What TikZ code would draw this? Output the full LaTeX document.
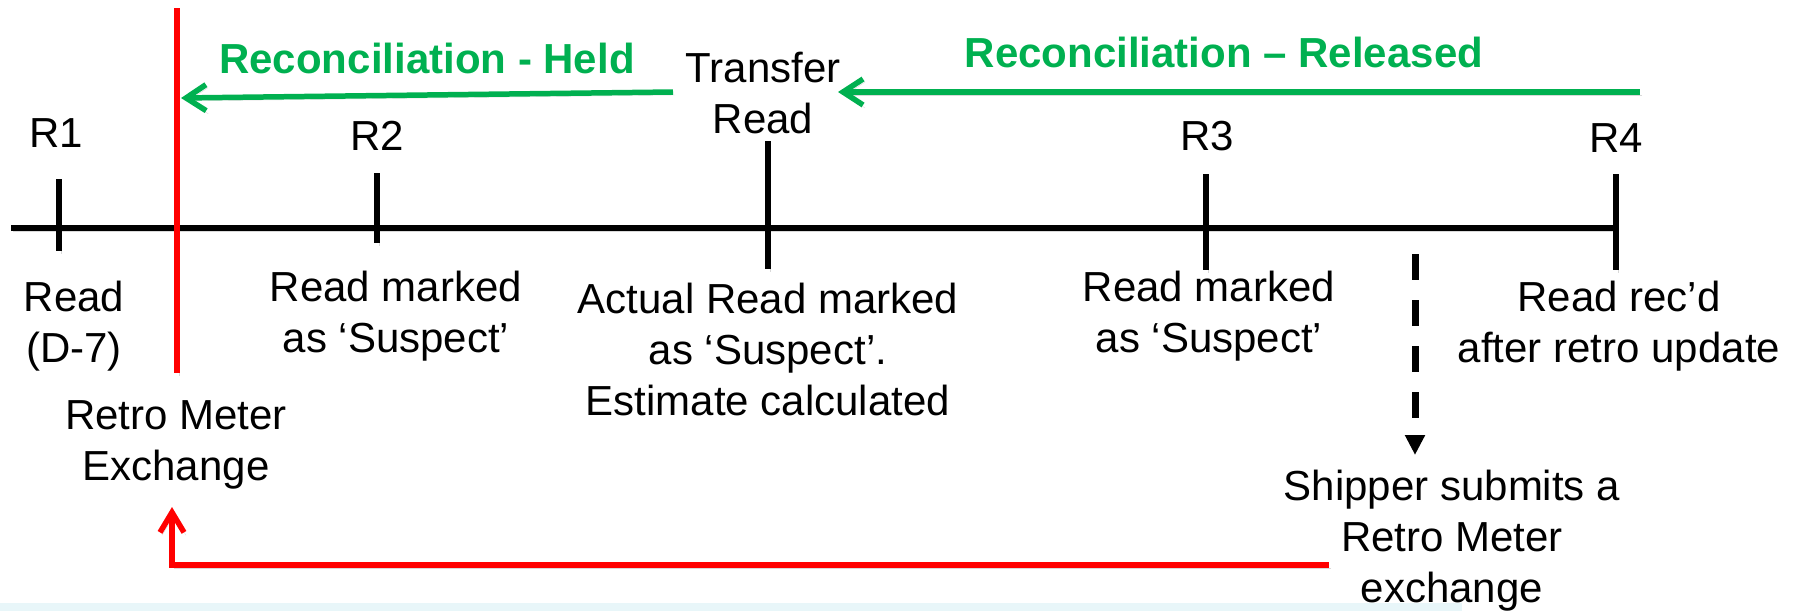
\documentclass[tikz,border=0pt]{standalone}
\usepackage{fontspec}
\setmainfont{Liberation Sans}
\usetikzlibrary{arrows.meta}
\definecolor{grn}{HTML}{00B050}
\definecolor{rd}{HTML}{FF0000}
\definecolor{stripc}{HTML}{E8F6F9}
\begin{document}
\begin{tikzpicture}[x=1pt,y=-1pt,
  lbl/.style={font=\fontsize{42}{51}\selectfont, align=center, inner sep=0pt, anchor=base},
  ttl/.style={lbl, font=\fontsize{42}{51}\selectfont\bfseries, text=grn},
  shadowed/.style={preaction={draw=black, draw opacity=0.15, transform canvas={shift={(2,3)}}}},
  axisline/.style={line width=5.5pt, shadowed},
  tickline/.style={line width=5.5pt, shadowed},
  garrow/.style={line width=5.5pt, draw=grn, -{Straight Barb[length=20pt,width=26pt]}, shadowed},
  rline/.style={line width=5.5pt, draw=rd, shadowed},
  rarrow/.style={line width=5.5pt, draw=rd, -{Straight Barb[length=20pt,width=24pt]}, shadowed},
  darrow/.style={line width=7pt, dash pattern=on 26pt off 20pt, -{Triangle[length=20pt,width=19pt]}}
]
\useasboundingbox (0,0) rectangle (1802,611);
\fill[stripc] (0,603) rectangle (1462,611);

% labels (multi-line nodes: anchor base = baseline of last line)
\node[lbl] (r1) at (56,147) {R1};
\node[lbl] (r2) at (377,150) {R2};
\node[lbl] (r3) at (1207,150) {R3};
\node[lbl] (r4) at (1616,152) {R4};
\node[lbl] (tr) at (763,133) {Transfer\\Read};
\node[ttl] (held) at (427,73) {Reconciliation - Held};
\node[ttl] (rel) at (1224,67) {Reconciliation – Released};
\node[lbl] (d7) at (74,362) {Read\\(D-7)};
\node[lbl] (s2) at (396,352) {Read marked\\as ‘Suspect’};
\node[lbl] (act) at (768,415) {Actual Read marked\\as ‘Suspect’.\\Estimate calculated};
\node[lbl] (s3) at (1209,352) {Read marked\\as ‘Suspect’};
\node[lbl] (rec) at (1619,362) {Read rec’d\\after retro update};
\node[lbl] (rme) at (176,480) {Retro Meter\\Exchange};
\node[lbl] (ship) at (1452,602) {Shipper submits a\\Retro Meter\\exchange};

% coordinates
\coordinate (tl0) at (11,228);
\coordinate (tl1) at (1616,228);
\coordinate (t1a) at (59,179); \coordinate (t1b) at (59,251);
\coordinate (t2a) at (377,173);  \coordinate (t2b) at (377,243);
\coordinate (tta) at (768,141);  \coordinate (ttb) at (768,269);
\coordinate (t3a) at (1206,174); \coordinate (t3b) at (1206,270);
\coordinate (t4a) at (1616,174); \coordinate (t4b) at (1616,270);
\coordinate (heldS) at (673,92);  \coordinate (heldE) at (181,98);
\coordinate (relS) at (1640,92);  \coordinate (relE) at (838,92);
\coordinate (redTop) at (177,8);  \coordinate (redBot) at (177,373);
\coordinate (retS) at (1329,565); \coordinate (retE) at (172,507);
\coordinate (dS) at (1415,254);   \coordinate (dE) at (1415,455);

% timeline
\draw[axisline] (tl0) -- (tl1);
\draw[tickline] (t1a) -- (t1b);
\draw[tickline] (t2a) -- (t2b);
\draw[tickline] (tta) -- (ttb);
\draw[tickline] (t3a) -- (t3b);
\draw[tickline] (t4a) -- (t4b);

% reconciliation arrows
\draw[garrow] (heldS) -- (heldE);
\draw[garrow] (relS) -- (relE);

% retro meter exchange
\draw[rline] (redTop) -- (redBot);
\draw[rarrow] (retS) -| (retE);

% dashed arrow
\draw[darrow] (dS) -- (dE);
\end{tikzpicture}
\end{document}
